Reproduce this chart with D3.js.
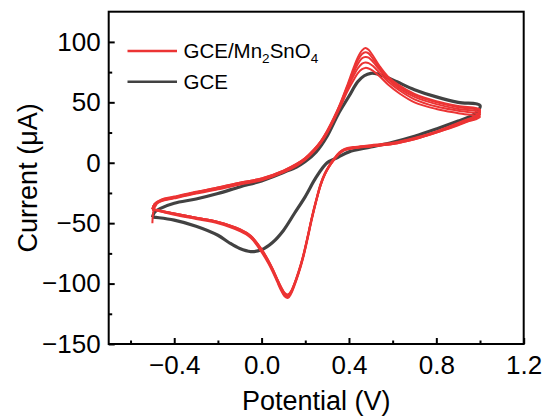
<!DOCTYPE html>
<html><head><meta charset="utf-8">
<script src="https://cdn.jsdelivr.net/npm/d3@7"></script>
<style>
body{margin:0;background:#fff}
text{font-family:"Liberation Sans",Arial,sans-serif}
</style></head>
<body><svg id="c" width="544" height="418"></svg>
<script>
// ---- data ----
const xMajorTicks = [-0.4, 0.0, 0.4, 0.8, 1.2];
const xMinorTicks = [-0.6, -0.2, 0.2, 0.6, 1.0];
const yMajorTicks = [-150, -100, -50, 0, 50, 100];
const yMinorTicks = [-125, -75, -25, 25, 75];
const seriesNames = ["GCE/Mn2SnO4", "GCE"];

// forward scan potentials (V), red cycles
const redFwdV = [-0.5, -0.49, -0.46, -0.4, -0.3, -0.2, -0.1, 0.0, 0.1, 0.16, 0.2, 0.24, 0.27, 0.3, 0.33, 0.36, 0.39, 0.42, 0.44, 0.46, 0.475, 0.49, 0.51, 0.54, 0.58, 0.63, 0.7, 0.8, 0.9, 1.0];
// reverse scan potentials (V), red cycles
const redRevV = [0.98, 0.95, 0.9, 0.8, 0.7, 0.6, 0.5, 0.42, 0.38, 0.355, 0.33, 0.31, 0.29, 0.27, 0.25, 0.23, 0.21, 0.19, 0.17, 0.15, 0.135, 0.12, 0.105, 0.09, 0.07, 0.05, 0.03, 0.0, -0.05, -0.1, -0.2, -0.3, -0.4, -0.47, -0.5];

const redFwd1 = [-50, -37, -31, -28.5, -24.5, -20.5, -16.5, -13, -6.5, -1, 4, 11, 17.5, 26.5, 37, 49, 63, 78, 87, 93, 95, 93.5, 88.5, 80, 71, 64, 57, 51, 47, 44];
const redRev1 = [39, 36.5, 33, 26, 20.5, 16.5, 14.5, 13, 11.5, 8.5, 3, -2, -8.5, -17.5, -30.5, -45, -61.5, -77, -89.5, -100, -106.5, -110, -108.5, -104, -96, -88, -81, -72, -60.5, -55, -49, -45.5, -42, -39.5, -38.5];

const redFwd2 = [-38.5, -34, -30.5, -28, -24, -20.5, -16.5, -13, -6.5, -1, 4, 11, 17.5, 26, 36.5, 48.5, 62, 76, 84.5, 90, 91.5, 90.5, 86, 78.5, 70, 63, 56, 50, 46, 43];
const redRev2 = [38.5, 36, 32.5, 25.5, 20, 16, 14, 12.5, 11, 8, 2.5, -2.5, -9, -18.5, -31.5, -46, -62.5, -78, -90.5, -101, -107.5, -111, -109.5, -105, -97, -89, -82, -73, -61.5, -56, -49.5, -46, -42.5, -40, -38.5];

const redFwd3 = [-38.5, -34, -31, -28.5, -24.5, -21, -17, -13.5, -7, -1.5, 3.5, 10.5, 17, 25.5, 36, 48, 61, 74, 81.5, 86.5, 87.5, 87, 83.5, 77, 69, 61.5, 54.5, 48.5, 44.5, 41.5];
const redRev3 = [37.5, 35.5, 32, 25.5, 20, 16, 14, 12.5, 11, 8, 2.5, -2.5, -9, -18, -31, -45.5, -62, -77.5, -90, -100.5, -106.5, -109.5, -108, -103.5, -96, -88, -81, -72, -61, -55.5, -49, -45.5, -42, -39.5, -38.5];

const redFwd4 = [-38.5, -34.5, -31.5, -29, -25, -21.5, -17.5, -14, -7.5, -2, 3, 10, 16.5, 25, 35.5, 47, 60, 71.5, 78, 82, 83, 82.5, 80, 74.5, 67, 60, 52.5, 46.5, 43, 40];
const redRev4 = [37, 35, 31.5, 25, 19.5, 15.5, 13.5, 12, 10.5, 7.5, 2, -3, -9.5, -19, -32, -47, -63.5, -79, -91.5, -102, -108.5, -112, -110.5, -106, -98, -90, -83, -74, -62, -56.5, -50, -46.5, -43, -40, -38.5];

const redFwd5 = [-38.5, -35, -32, -29.5, -25.5, -22, -18, -14.5, -8, -2.5, 2.5, 9.5, 16, 24.5, 35, 46, 58, 68, 74, 77.5, 78.5, 78, 76, 71.5, 64.5, 57.5, 50, 44.5, 41, 38];
const redRev5 = [36, 34.5, 31, 25, 19.5, 15.5, 13.5, 12, 10.5, 7.5, 2, -3, -9.5, -18.5, -31.5, -46, -62.5, -78, -90.5, -100.5, -106.5, -109, -107.5, -103, -95.5, -87.5, -80.5, -71.5, -60.5, -55, -49, -45.5, -42, -39.5, -39];

// GCE (black)
const blackFwdV = [-0.5, -0.49, -0.46, -0.4, -0.3, -0.2, -0.1, 0.0, 0.1, 0.16, 0.2, 0.25, 0.3, 0.35, 0.4, 0.44, 0.47, 0.5, 0.53, 0.57, 0.62, 0.7, 0.8, 0.9, 1.0];
const blackFwdI = [-45, -41, -37.5, -33.5, -30, -25.5, -20, -15, -8, -3.5, 1, 9, 22, 40, 55, 67, 72, 74, 73.5, 71, 67, 60.5, 54.5, 50, 47.5];
const blackRevV = [0.98, 0.95, 0.9, 0.8, 0.7, 0.6, 0.5, 0.4, 0.35, 0.3, 0.25, 0.2, 0.15, 0.1, 0.05, 0.0, -0.05, -0.1, -0.15, -0.2, -0.3, -0.4, -0.47, -0.5];
const blackRevI = [41, 38, 34.5, 28, 22, 17, 13, 9, 4.5, 0, -12, -28, -42, -56, -66, -72, -73.5, -71, -66, -60, -52.5, -47.5, -45.5, -45];

// ---- layout ----
const svg = d3.select("#c");
const L = 108.7, R = 523.7, T = 11.7, B = 344;
const x = d3.scaleLinear().domain([-0.7, 1.2]).range([L, R]);
const y = d3.scaleLinear().domain([-150, 125]).range([B, T]);

const redColor = "#ec3434", blackColor = "#424242";

function loop(fv, fi, rv, ri) {
  const pts = fv.map((v, k) => [v, fi[k]]);
  rv.forEach((v, k) => pts.push([v, ri[k]]));
  return pts;
}
const line = d3.line().x(d => x(d[0])).y(d => y(d[1])).curve(d3.curveCatmullRom.alpha(0.5));

// black curve
svg.append("path").datum(loop(blackFwdV, blackFwdI, blackRevV, blackRevI))
  .attr("d", line).attr("fill", "none").attr("stroke", blackColor)
  .attr("stroke-width", 3.2).attr("stroke-linejoin", "round");

// red cycles
const redCycles = [
  [redFwd5, redRev5], [redFwd4, redRev4], [redFwd3, redRev3], [redFwd2, redRev2], [redFwd1, redRev1]
];
redCycles.forEach(c => {
  svg.append("path").datum(loop(redFwdV, c[0], redRevV, c[1]))
    .attr("d", line).attr("fill", "none").attr("stroke", redColor)
    .attr("stroke-width", 2).attr("stroke-linejoin", "round");
});

// axes
const fmt = d3.format(".1f");
const gx = svg.append("g").attr("transform", `translate(0,${B})`)
  .call(d3.axisBottom(x).tickValues(xMajorTicks).tickSizeInner(-6).tickSizeOuter(0).tickPadding(11.5).tickFormat(fmt));
const gxm = svg.append("g").attr("transform", `translate(0,${B})`)
  .call(d3.axisBottom(x).tickValues(xMinorTicks).tickSizeInner(-3.5).tickSizeOuter(0).tickFormat(""));
const gy = svg.append("g").attr("transform", `translate(${L},0)`)
  .call(d3.axisLeft(y).tickValues(yMajorTicks).tickSizeInner(-6).tickSizeOuter(0).tickPadding(8).tickFormat(d3.format("d")));
const gym = svg.append("g").attr("transform", `translate(${L},0)`)
  .call(d3.axisLeft(y).tickValues(yMinorTicks).tickSizeInner(-3.5).tickSizeOuter(0).tickFormat(""));
[gx, gxm, gy, gym].forEach(g => {
  g.select(".domain").remove();
  g.selectAll(".tick line").attr("stroke", "#000").attr("stroke-width", 2);
  g.selectAll("text").attr("font-size", 26).attr("fill", "#000")
    .attr("font-family", '"Liberation Sans",Arial,sans-serif');
});

// frame
svg.append("rect").attr("x", L).attr("y", T).attr("width", R - L).attr("height", B - T)
  .attr("fill", "none").attr("stroke", "#000").attr("stroke-width", 2);

// titles
svg.append("text").attr("x", (L + R) / 2).attr("y", 410).attr("text-anchor", "middle")
  .attr("font-size", 27).text("Potential (V)");
svg.append("text").attr("transform", `translate(37,${(T + B) / 2}) rotate(-90)`)
  .attr("text-anchor", "middle").attr("font-size", 27).text("Current (μA)");

// legend
const lg = svg.append("g");
lg.append("line").attr("x1", 127.5).attr("x2", 177).attr("y1", 51).attr("y2", 51)
  .attr("stroke", redColor).attr("stroke-width", 2.5);
lg.append("line").attr("x1", 127.5).attr("x2", 177).attr("y1", 81.7).attr("y2", 81.7)
  .attr("stroke", blackColor).attr("stroke-width", 2.5);
const t1 = lg.append("text").attr("x", 183.5).attr("y", 58).attr("font-size", 20.5);
t1.append("tspan").text("GCE/Mn");
t1.append("tspan").attr("font-size", 13.5).attr("dy", 5).text("2");
t1.append("tspan").attr("dy", -5).text("SnO");
t1.append("tspan").attr("font-size", 13.5).attr("dy", 5).text("4");
lg.append("text").attr("x", 183.5).attr("y", 89).attr("font-size", 20.5).text("GCE");
</script></body></html>
